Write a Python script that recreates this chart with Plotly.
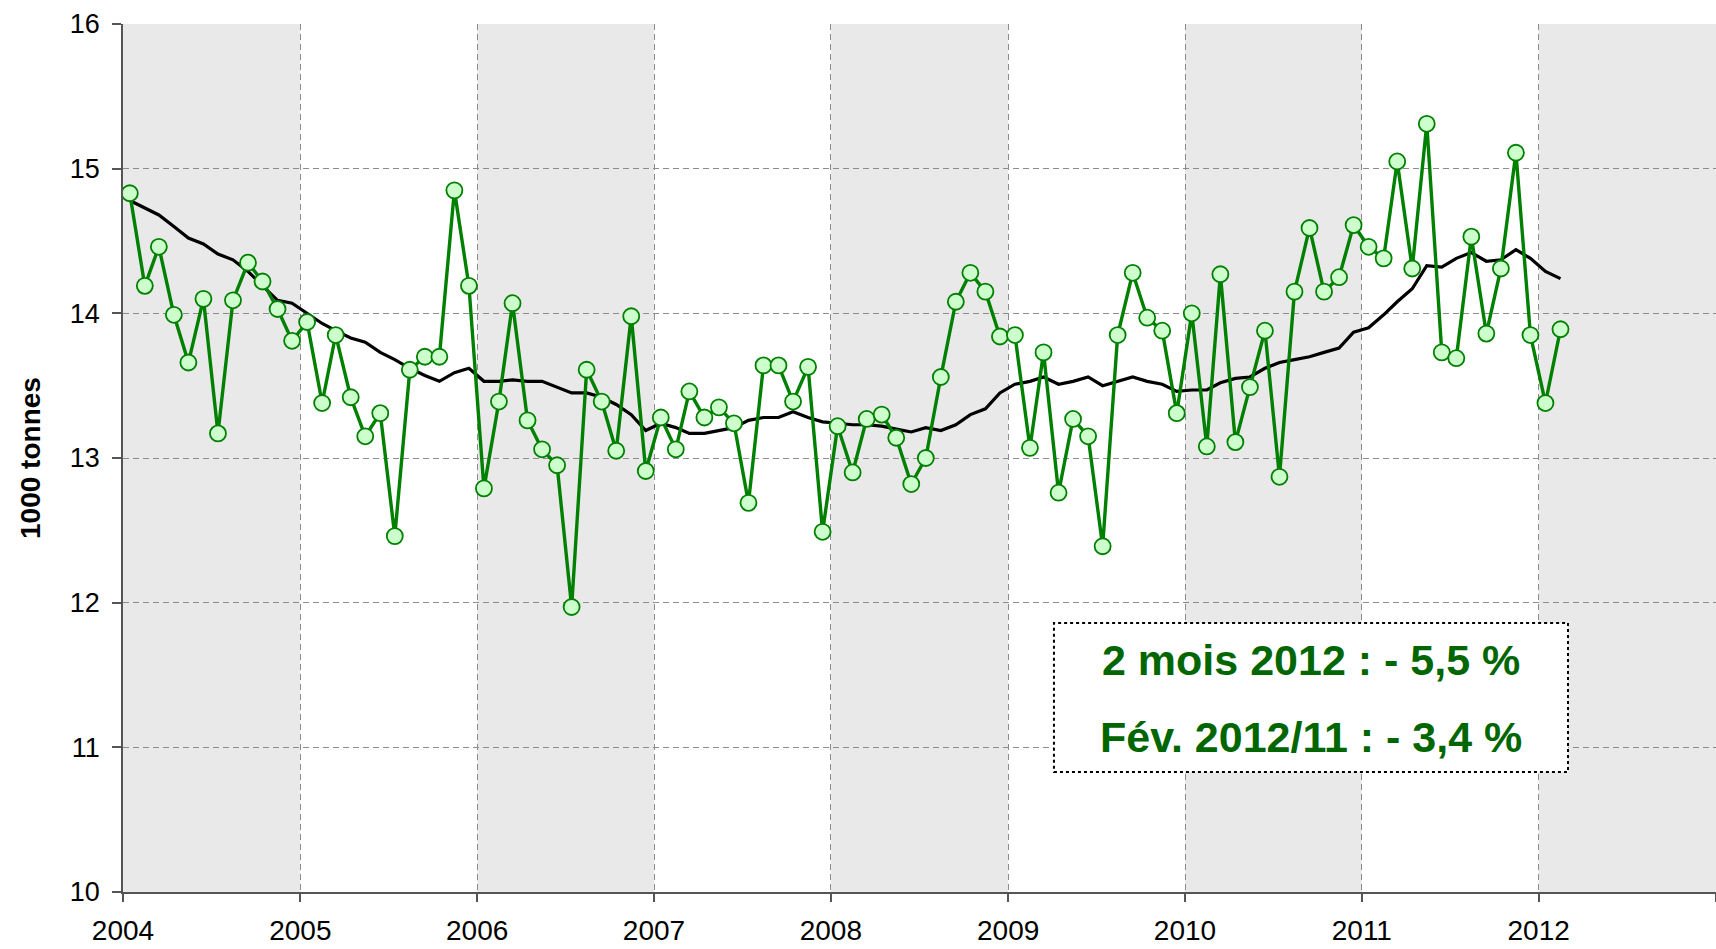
import pandas as pd
import plotly.graph_objects as go

# Monthly values (1000 tonnes), Jan 2004 - Feb 2012
monthly = [
    14.83, 14.19, 14.46, 13.99, 13.66, 14.10, 13.17, 14.09, 14.35, 14.22, 14.03, 13.81,  # 2004
    13.94, 13.38, 13.85, 13.42, 13.15, 13.31, 12.46, 13.61, 13.70, 13.70, 14.85, 14.19,  # 2005
    12.79, 13.39, 14.07, 13.26, 13.06, 12.95, 11.97, 13.61, 13.39, 13.05, 13.98, 12.91,  # 2006
    13.28, 13.06, 13.46, 13.28, 13.35, 13.24, 12.69, 13.64, 13.64, 13.39, 13.63, 12.49,  # 2007
    13.22, 12.90, 13.27, 13.30, 13.14, 12.82, 13.00, 13.56, 14.08, 14.28, 14.15, 13.84,  # 2008
    13.85, 13.07, 13.73, 12.76, 13.27, 13.15, 12.39, 13.85, 14.28, 13.97, 13.88, 13.31,  # 2009
    14.00, 13.08, 14.27, 13.11, 13.49, 13.88, 12.87, 14.15, 14.59, 14.15, 14.25, 14.61,  # 2010
    14.46, 14.38, 15.05, 14.31, 15.31, 13.73, 13.69, 14.53, 13.86, 14.31, 15.11, 13.85,  # 2011
    13.38, 13.89,                                                                        # 2012
]

# 12-month moving average
moving_avg = [
    14.78, 14.73, 14.68, 14.60, 14.52, 14.48, 14.41, 14.37, 14.29, 14.19, 14.09, 14.07,
    14.00, 13.93, 13.88, 13.83, 13.80, 13.73, 13.68, 13.62, 13.57, 13.53, 13.59, 13.62,
    13.53, 13.53, 13.54, 13.53, 13.53, 13.49, 13.45, 13.45, 13.42, 13.37, 13.30, 13.19,
    13.24, 13.21, 13.17, 13.17, 13.19, 13.21, 13.26, 13.28, 13.28, 13.32, 13.28, 13.25,
    13.24, 13.23, 13.23, 13.22, 13.20, 13.18, 13.21, 13.19, 13.23, 13.30, 13.34, 13.45,
    13.51, 13.53, 13.56, 13.51, 13.53, 13.56, 13.50, 13.53, 13.56, 13.53, 13.51, 13.46,
    13.47, 13.47, 13.52, 13.55, 13.56, 13.62, 13.66, 13.68, 13.70, 13.73, 13.76, 13.87,
    13.90, 13.99, 14.08, 14.17, 14.33, 14.32, 14.38, 14.42, 14.36, 14.37, 14.44, 14.38,
    14.29, 14.24,
]

start_month = "2004-01-01"
year_ticks = [2004, 2005, 2006, 2007, 2008, 2009, 2010, 2011, 2012, 2013]
year_labels = ["2004", "2005", "2006", "2007", "2008", "2009", "2010", "2011", "2012", ""]
shaded_years = [2004, 2006, 2008, 2010, 2012]
y_ticks = [10, 11, 12, 13, 14, 15, 16]
y_title = "1000 tonnes"
box_lines = ["2 mois 2012 : - 5,5 %", "Fév. 2012/11 : - 3,4 %"]

dates = pd.date_range(start_month, periods=len(monthly), freq="MS") + pd.Timedelta(days=14)

FONT = "Liberation Sans, Arial, sans-serif"
GREEN = "#008000"
TEXT_GREEN = "#006600"

fig = go.Figure()

fig.add_trace(go.Scatter(
    x=dates, y=moving_avg, mode="lines",
    line=dict(color="black", width=3.2), hoverinfo="skip", showlegend=False,
))
fig.add_trace(go.Scatter(
    x=dates, y=monthly, mode="lines+markers",
    line=dict(color=GREEN, width=3.4),
    marker=dict(size=16, color="#CCFFCC", line=dict(color=GREEN, width=1.8)),
    showlegend=False,
))

shapes = []
for yr in shaded_years:
    shapes.append(dict(
        type="rect", xref="x", yref="y",
        x0=f"{yr}-01-01", x1=f"{yr + 1}-01-01", y0=10, y1=16,
        fillcolor="#E9E9E9", line=dict(width=0), layer="below",
    ))
# dotted annotation box
shapes.append(dict(
    type="rect", xref="paper", yref="paper",
    x0=0.5844, x1=0.9071, y0=0.1382, y1=0.3099,
    fillcolor="white", line=dict(color="black", width=2, dash="dot"), layer="above",
))

annotations = [
    dict(text=f"<b>{box_lines[0]}</b>", xref="paper", yref="paper", x=0.7458, y=0.2673,
         showarrow=False, font=dict(family=FONT, size=43, color=TEXT_GREEN),
         xanchor="center", yanchor="middle"),
    dict(text=f"<b>{box_lines[1]}</b>", xref="paper", yref="paper", x=0.7458, y=0.1786,
         showarrow=False, font=dict(family=FONT, size=43, color=TEXT_GREEN),
         xanchor="center", yanchor="middle"),
    dict(text=f"<b>{y_title}</b>", xref="paper", yref="paper", x=-0.0584, y=0.5,
         textangle=-90, showarrow=False, font=dict(family=FONT, size=28, color="black"),
         xanchor="center", yanchor="middle"),
]

fig.update_layout(
    width=1716, height=949,
    margin=dict(l=123, r=0, t=24, b=57, autoexpand=False),
    paper_bgcolor="white", plot_bgcolor="white",
    shapes=shapes, annotations=annotations,
    font=dict(family=FONT, size=26, color="black"),
)

fig.update_xaxes(
    type="date",
    range=["2004-01-01", "2013-01-01"],
    tickvals=[f"{y}-01-01" for y in year_ticks], ticktext=year_labels,
    showgrid=True, gridcolor="#8C8C8C", griddash="6px,4px", gridwidth=1,
    showline=True, linecolor="#555555", linewidth=1.5,
    ticks="outside", ticklen=8, tickcolor="#555555", tickwidth=1.5,
    ticklabelstandoff=5,
    tickfont=dict(family=FONT, size=28, color="black"),
    zeroline=False, automargin=False,
)
fig.update_yaxes(
    range=[10, 16], tickvals=y_ticks,
    showgrid=True, gridcolor="#8C8C8C", griddash="6px,4px", gridwidth=1,
    showline=True, linecolor="#555555", linewidth=1.5,
    ticks="outside", ticklen=9, tickcolor="#555555", tickwidth=1.5,
    ticklabelstandoff=7,
    tickfont=dict(family=FONT, size=27, color="black"),
    zeroline=False, automargin=False,
)

fig.write_html("out.html", config={"displayModeBar": False},
               post_script="document.body.style.margin='0';")
